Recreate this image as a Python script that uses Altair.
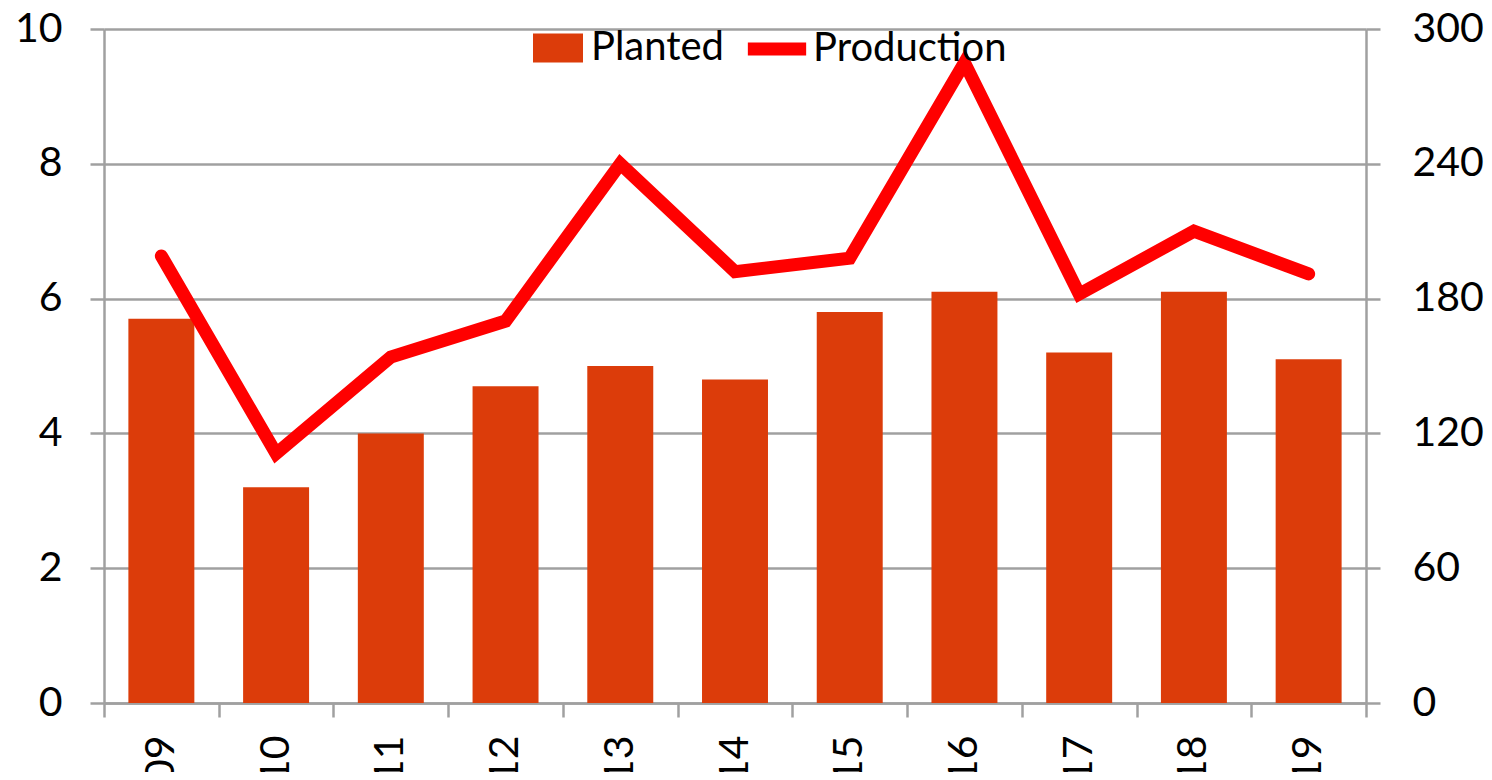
import altair as alt
import pandas as pd

years = ["09", "10", "11", "12", "13", "14", "15", "16", "17", "18", "19"]
planted = [5.7, 3.2, 4.0, 4.7, 5.0, 4.8, 5.8, 6.1, 5.2, 6.1, 5.1]
production = [199, 111, 154, 170, 240, 192, 198, 285, 182, 210, 191]

df = pd.DataFrame({"year": years, "planted": planted, "production": production})

FONT = "Lato"
GREY = "#a0a0a0"

x = alt.X("year:N", sort=None, title=None,
          scale=alt.Scale(paddingInner=0, paddingOuter=0),
          axis=alt.Axis(labelAngle=270, labelPadding=18, tickBand="extent",
                        grid=False, domainColor=GREY, tickColor=GREY))

bars = alt.Chart(df).transform_calculate(s1="'Planted'").mark_bar(
    width=alt.RelativeBandSize(0.575)
).encode(
    x=x,
    y=alt.Y("planted:Q", title=None,
            scale=alt.Scale(domain=[0, 10], nice=False),
            axis=alt.Axis(values=[0, 2, 4, 6, 8, 10], orient="left", grid=True,
                          labelPadding=28)),
    fill=alt.Fill("s1:N", title=None,
                  scale=alt.Scale(domain=["Planted"], range=["#dc3c0a"]),
                  legend=alt.Legend(orient="none", legendX=429, legendY=-6,
                                    symbolType="M-1,-0.58H1V0.58H-1Z",
                                    symbolSize=2500, symbolStrokeWidth=0,
                                    labelOffset=8)),
)

line = alt.Chart(df).transform_calculate(s2="'Production'").mark_line(
    strokeWidth=13, strokeCap="round", strokeJoin="miter"
).encode(
    x=x,
    y=alt.Y("production:Q", title=None,
            scale=alt.Scale(domain=[0, 300], nice=False),
            axis=alt.Axis(values=[0, 60, 120, 180, 240, 300], orient="right",
                          grid=False, labelPadding=32)),
    stroke=alt.Stroke("s2:N", title=None,
                      scale=alt.Scale(domain=["Production"], range=["#ff0000"]),
                      legend=alt.Legend(orient="none", legendX=637, legendY=-16,
                                        symbolType="stroke", symbolSize=3400,
                                        symbolStrokeWidth=13, labelOffset=0)),
)

chart = alt.layer(bars, line).resolve_scale(
    y="independent", fill="independent", stroke="independent"
).properties(
    width=1262, height=674,
    autosize=alt.AutoSizeParams(type="none"),
    padding={"left": 96, "top": 21, "right": 118, "bottom": 69},
).configure_view(strokeWidth=0).configure_axis(
    labelFont=FONT, labelFontSize=41, labelColor="black",
    domainColor=GREY, domainWidth=2.5, tickColor=GREY, tickWidth=2.5,
    tickSize=14, gridColor=GREY, gridWidth=2.5, gridOpacity=1,
).configure_legend(
    labelFont=FONT, labelFontSize=40, labelColor="black", padding=0,
    labelLimit=400,
)

chart.save("out.html", embed_options={"renderer": "svg", "actions": False})
